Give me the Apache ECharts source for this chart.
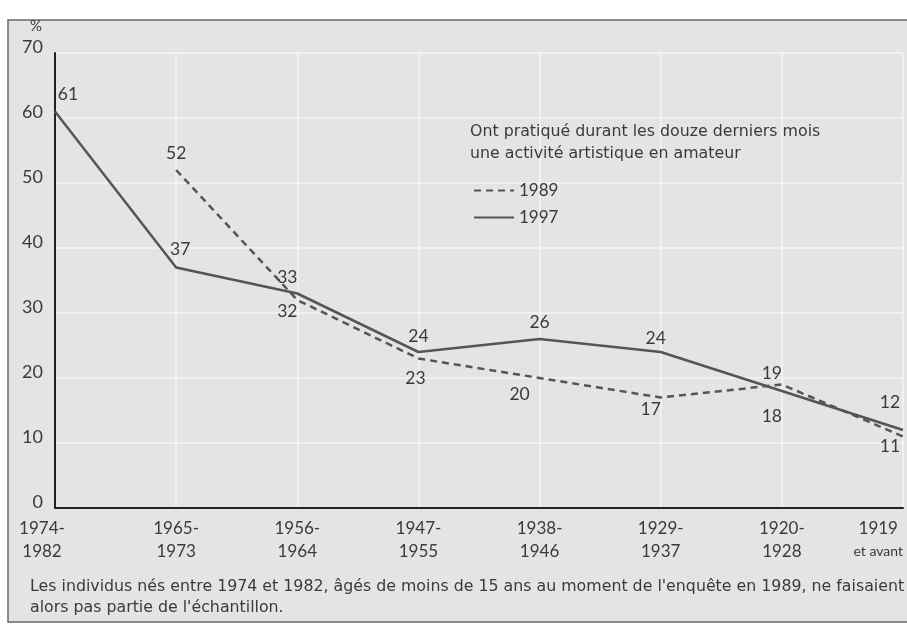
<!DOCTYPE html>
<html>
<head>
<meta charset="utf-8">
<script src="https://cdn.jsdelivr.net/npm/echarts@6/dist/echarts.min.js"></script>
<style>
  html, body { margin: 0; padding: 0; background: #fff; }
  #main { width: 907px; height: 625px; }
</style>
</head>
<body>
<div id="main"></div>
<script>
// générations (années de naissance)
const categories = ['1974-\n1982', '1965-\n1973', '1956-\n1964', '1947-\n1955', '1938-\n1946', '1929-\n1937', '1920-\n1928', '1919\net avant'];
const values1989 = [null, 52, 32, 23, 20, 17, 19, 11];
const values1997 = [61, 37, 33, 24, 26, 24, 18, 12];
const yTicks = [0, 10, 20, 30, 40, 50, 60, 70];

// placement des étiquettes de valeur (au-dessus / en dessous, petit décalage)
const pos1989 = ['top', 'top', 'bottom', 'bottom', 'bottom', 'bottom', 'top', 'bottom'];
const pos1997 = ['top', 'top', 'top', 'top', 'top', 'top', 'bottom', 'top'];
const off1989 = [[0, 0], [0, 2], [-10, -7], [-3, 1], [-20, -2], [-10, -7], [-10, 7], [-13, -9]];
const off1997 = [[13, 1], [4, 0], [-10, 2], [0, 3], [0, 2], [-5, 5], [-10, 7], [-13, -9]];

const ink = '#3a3a3a';
const font = 'Lato, "Noto Sans", sans-serif';
const wide = '"DejaVu Sans", sans-serif';

const mkData = (vals, pos, off) => vals.map((v, i) => ({
  value: v,
  label: { position: pos[i], offset: off[i] }
}));

const chart = echarts.init(document.getElementById('main'));

const option = {
  backgroundColor: '#fff',
  textStyle: { fontFamily: font },
  graphic: [
    {
      type: 'rect', z: -10, silent: true,
      shape: { x: 8, y: 20, width: 905, height: 602 },
      style: { fill: '#e4e4e4', stroke: '#6a6a6a', lineWidth: 1.5 }
    },
    {
      type: 'text', left: 30, top: 19, z: 100,
      style: { text: '%', fill: ink, font: '15px ' + font }
    },
    {
      type: 'text', left: 470, top: 121, z: 100,
      style: {
        text: 'Ont pratiqué durant les douze derniers mois\nune activité artistique en amateur',
        fill: ink, font: '15.8px ' + wide, lineHeight: 22
      }
    },
    {
      type: 'text', left: 30, top: 576, z: 100,
      style: {
        text: "Les individus nés entre 1974 et 1982, âgés de moins de 15 ans au moment de l'enquête en 1989, ne faisaient\nalors pas partie de l'échantillon.",
        fill: ink, font: '15.8px ' + wide, lineHeight: 21
      }
    }
  ],
  legend: {
    orient: 'vertical',
    left: 468,
    top: 177,
    itemWidth: 40,
    itemHeight: 14,
    itemGap: 10,
    z: 100,
    textStyle: { color: ink, fontSize: 17, fontFamily: font },
    data: ['1989', '1997']
  },
  grid: { left: 55, right: 4, top: 53, bottom: 117 },
  xAxis: {
    type: 'category',
    boundaryGap: false,
    data: categories,
    axisLine: { lineStyle: { color: '#222', width: 2 } },
    axisTick: { show: false },
    axisLabel: {
      color: ink, fontSize: 17, lineHeight: 23, margin: 9,
      alignMaxLabel: 'right',
      formatter: (v, i) => {
        if (v.indexOf('avant') > -1) return '{a|1919}\n{b|et avant}';
        if (i === 0) return v.split('\n').map(s => '{f|' + s + '}').join('\n');
        return v;
      },
      rich: {
        a: { fontSize: 17, lineHeight: 23, color: ink, fontFamily: font, align: 'center' },
        b: { fontSize: 14, lineHeight: 23, color: ink, fontFamily: font },
        f: { fontSize: 17, lineHeight: 23, color: ink, fontFamily: font, padding: [0, 26, 0, 0] }
      }
    },
    splitLine: { show: true, lineStyle: { color: '#f6f6f6', width: 1.5 } }
  },
  yAxis: {
    type: 'value',
    min: yTicks[0],
    max: yTicks[yTicks.length - 1],
    interval: 10,
    axisLine: { show: true, lineStyle: { color: '#222', width: 2 } },
    axisTick: { show: false },
    axisLabel: {
      color: ink, fontSize: 18, margin: 12,
      formatter: '{v|{value}}',
      rich: { v: { fontSize: 18, color: ink, fontFamily: font, padding: [0, 0, 12, 0] } }
    },
    splitLine: { lineStyle: { color: '#f6f6f6', width: 1.5 } }
  },
  series: [
    {
      name: '1989',
      type: 'line',
      data: mkData(values1989, pos1989, off1989),
      symbol: 'circle',
      symbolSize: 1,
      showSymbol: true,
      lineStyle: { color: '#555', width: 2.5, type: [7, 5] },
      itemStyle: { color: 'rgba(0,0,0,0)' },
      label: { show: true, color: ink, fontSize: 17.5, fontFamily: font, distance: 9 }
    },
    {
      name: '1997',
      type: 'line',
      data: mkData(values1997, pos1997, off1997),
      symbol: 'circle',
      symbolSize: 1,
      showSymbol: true,
      lineStyle: { color: '#555', width: 2.5 },
      itemStyle: { color: 'rgba(0,0,0,0)' },
      label: { show: true, color: ink, fontSize: 17.5, fontFamily: font, distance: 9 }
    }
  ]
};

chart.setOption(option);
</script>
</body>
</html>
